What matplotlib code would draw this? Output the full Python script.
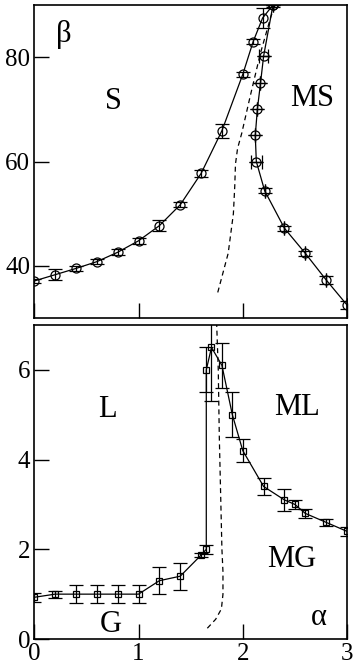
import matplotlib
matplotlib.use("Agg")
import matplotlib.pyplot as plt
import numpy as np

plt.rcParams['font.family'] = ['Liberation Serif', 'DejaVu Serif']
plt.rcParams['mathtext.fontset'] = 'stix'

# ---- top panel (beta) ----
beta_left_x = [0.0, 0.2, 0.4, 0.6, 0.8, 1.0, 1.2, 1.4, 1.6, 1.8, 2.0, 2.1, 2.19, 2.29]
beta_left_y = [37.1, 38.3, 39.5, 40.8, 42.6, 44.8, 47.7, 51.7, 57.7, 65.9, 76.7, 83.0, 87.5, 90.0]
beta_left_err = [0.3, 1.0, 0.5, 0.5, 0.55, 0.6, 1.05, 0.5, 0.6, 1.35, 0.55, 0.5, 1.9, 0.3]

beta_right_x = [2.29, 2.20, 2.17, 2.14, 2.12, 2.13, 2.21, 2.40, 2.60, 2.80, 3.0]
beta_right_y = [90.0, 80.2, 75.0, 70.0, 65.0, 60.0, 54.4, 47.2, 42.4, 37.3, 32.5]
beta_right_yerr = [0.0, 0.0, 0.0, 0.0, 0.0, 0.0, 0.5, 0.45, 0.5, 0.7, 0.8]
beta_right_xerr = [0.0, 0.045, 0.0, 0.0, 0.0, 0.05, 0.0, 0.0, 0.0, 0.0, 0.0]

beta_dash_x = [1.76, 1.86, 1.91, 1.923, 1.93, 1.95, 1.99, 2.07, 2.17, 2.27, 2.31]
beta_dash_y = [34.9, 42.4, 50.0, 55.2, 59.5, 62.5, 65.4, 72.4, 80.8, 87.8, 90.0]

# ---- bottom panel (alpha) ----
alpha_x = [0.0, 0.2, 0.4, 0.6, 0.8, 1.0, 1.2, 1.4, 1.6, 1.65, 1.65, 1.70, 1.80, 1.90, 2.0, 2.2, 2.4, 2.5, 2.6, 2.8, 3.0]
alpha_y = [0.93, 1.0, 1.0, 1.0, 1.0, 1.0, 1.3, 1.4, 1.87, 2.0, 6.0, 6.5, 6.1, 5.0, 4.2, 3.4, 3.1, 3.0, 2.8, 2.6, 2.4]
alpha_err = [0.1, 0.08, 0.2, 0.2, 0.2, 0.2, 0.3, 0.3, 0.05, 0.1, 0.5, 1.2, 0.5, 0.5, 0.25, 0.2, 0.25, 0.1, 0.1, 0.07, 0.1]

alpha_dash_x = [1.66, 1.74, 1.795, 1.81, 1.81, 1.80, 1.79, 1.775, 1.765, 1.75]
alpha_dash_y = [0.24, 0.44, 0.67, 1.0, 1.5, 2.0, 3.0, 4.5, 6.0, 7.0]

W, H = 354, 666
fig = plt.figure(figsize=(W / 100, H / 100), dpi=100)
ax1 = fig.add_axes([34.3 / W, 1 - 318 / H, (347 - 34.3) / W, (318 - 5) / H])
ax2 = fig.add_axes([34.3 / W, 1 - 639 / H, (347 - 34.3) / W, (639 - 325) / H])

ekw = dict(color='black', lw=0.9, elinewidth=0.9, capsize=5, capthick=0.9,
           markerfacecolor='none', markeredgecolor='black', markeredgewidth=0.9)

ax1.errorbar(beta_left_x, beta_left_y, yerr=beta_left_err, fmt='-o', ms=6.5, **ekw)
ax1.errorbar(beta_right_x, beta_right_y, yerr=beta_right_yerr, xerr=beta_right_xerr, fmt='-o', ms=6.5, **ekw)
ax1.plot(beta_dash_x, beta_dash_y, ls=(0, (4, 3)), color='black', lw=0.9)

ax2.errorbar(alpha_x, alpha_y, yerr=alpha_err, fmt='-s', ms=5, **ekw)
ax2.plot(alpha_dash_x, alpha_dash_y, ls=(0, (4, 3)), color='black', lw=0.9)

ax1.set_xlim(0, 3)
ax1.set_ylim(30, 90)
ax2.set_xlim(0, 3)
ax2.set_ylim(0, 7)

ax1.set_yticks([40, 60, 80])
ax1.set_xticks([0, 1, 2, 3])
ax1.set_xticklabels([])
ax2.set_yticks([0, 2, 4, 6])
ax2.set_xticks([0, 1, 2, 3])

for ax in (ax1, ax2):
    ax.tick_params(direction='in', length=11, width=1.0, labelsize=18, pad=3,
                   top=False, right=False)
    for s in ax.spines.values():
        s.set_linewidth(1.2)

tkw = dict(fontsize=22, ha='center', va='center')
ax1.text(0.28, 84.3, 'β', **tkw)
ax1.text(0.76, 71.5, 'S', **tkw)
ax1.text(2.67, 72.1, 'MS', **tkw)
ax2.text(0.70, 5.11, 'L', **tkw)
ax2.text(2.52, 5.15, 'ML', **tkw)
ax2.text(2.47, 1.78, 'MG', **tkw)
ax2.text(0.73, 0.33, 'G', **tkw)
ax2.text(2.73, 0.48, 'α', **tkw)

fig.savefig('out.png', dpi=100)
